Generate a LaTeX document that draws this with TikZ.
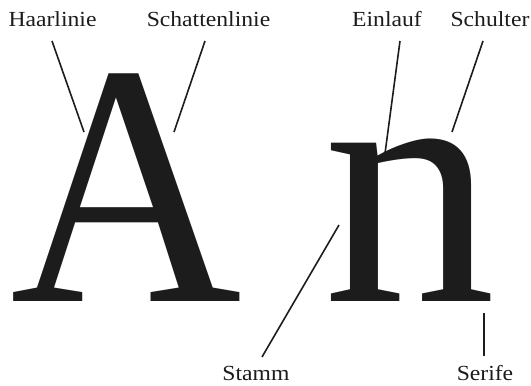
\documentclass[tikz,border=0pt]{standalone}
\usepackage{fontspec}
\setmainfont{Liberation Serif}
\newfontfamily\labfont[FakeStretch=1.1]{Liberation Serif}
\newfontfamily\bigfont{Liberation Serif}
\newfontfamily\bigAfont[FakeStretch=0.93]{Liberation Serif}
\definecolor{ink}{HTML}{1B1C1B}
\begin{document}
\begin{tikzpicture}[x=1pt,y=-1pt,
  lab/.style={inner sep=0pt,outer sep=0pt,anchor=base,text=ink,font=\labfont\fontsize{21.5}{24}\selectfont},
  glyph/.style={inner sep=0pt,outer sep=0pt,anchor=base,text=ink,text depth=0pt,text height=160pt,font=\bigfont\fontsize{345}{345}\selectfont},
  pointer/.style={draw=ink,line width=1.6pt}]
\useasboundingbox (0,0) rectangle (531,386);
% big letters
\node[glyph,text height=230pt,font=\bigAfont\fontsize{345}{345}\selectfont] (A) at (126.5,301) {A};
\node[glyph] (n) at (410,301) {n};
% labels
\node[lab] (haar) at (52.5,26) {Haarlinie};
\node[lab] (schatten) at (208.5,26) {Schattenlinie};
\node[lab] (einlauf) at (387,26) {Einlauf};
\node[lab] (schulter) at (490,26) {Schulter};
\node[lab] (stamm) at (256,380) {Stamm};
\node[lab] (serife) at (485,380) {Serife};
% connector ends
\coordinate (haarA) at (52,41);   \coordinate (haarB) at (84,132);
\coordinate (schA) at (205,41);   \coordinate (schB) at (174,132);
\coordinate (einA) at (400,41);   \coordinate (einB) at (384,161);
\coordinate (schuA) at (483,41);  \coordinate (schuB) at (452,132);
\coordinate (stA) at (262,357);   \coordinate (stB) at (339,225);
\coordinate (serA) at (484,356);  \coordinate (serB) at (484,313);
\draw[pointer] (haarA) -- (haarB);
\draw[pointer] (schA) -- (schB);
\draw[pointer] (einA) -- (einB);
\draw[pointer] (schuA) -- (schuB);
\draw[pointer] (stA) -- (stB);
\draw[pointer] (serA) -- (serB);
\end{tikzpicture}
\end{document}
